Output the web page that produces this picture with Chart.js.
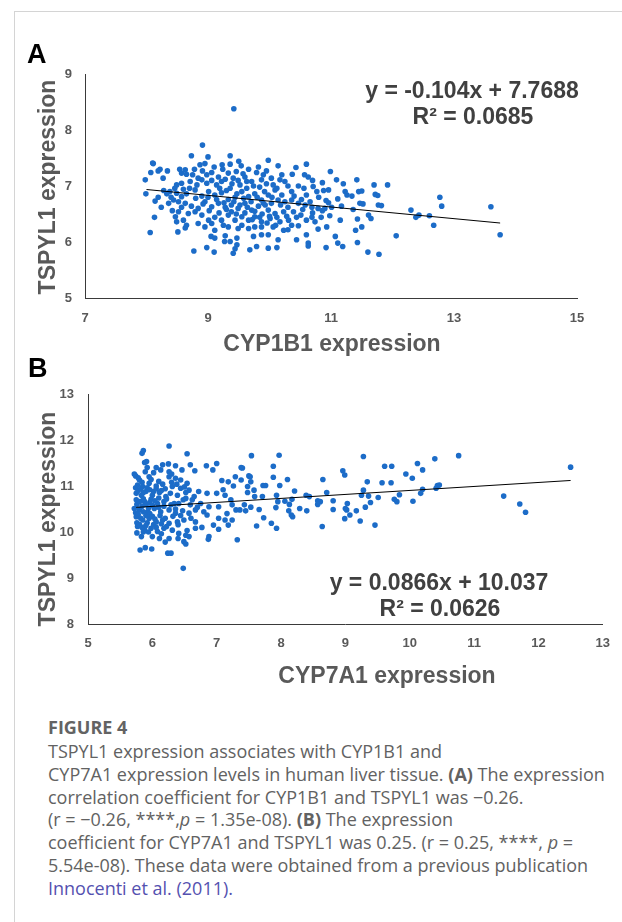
<!DOCTYPE html>
<html>
<head>
<meta charset="utf-8">
<script src="https://cdn.jsdelivr.net/npm/chart.js@4.4.1/dist/chart.umd.min.js"></script>
<style>
  html, body { margin: 0; padding: 0; background: #fff; }
  body { width: 622px; height: 922px; position: relative; overflow: hidden; font-family: "Liberation Sans", Arial, sans-serif; }
  .frame { position: absolute; left: 14px; top: 11px; right: -2px; bottom: -2px; border-left: 1px solid #d4d4d4; border-top: 1px solid #d4d4d4; }
  .panel { position: absolute; left: 0; width: 622px; height: 350px; }
  .txt { position: absolute; white-space: nowrap; line-height: 1; transform: translate(-50%, -50%); font-weight: bold; }
  .letter { font-size: 27px; color: #000; transform: translate(0, -50%); }
  .ytitle { font-size: 23px; color: #595959; transform: translate(-50%, -50%) rotate(-90deg); }
  .xtitle { font-size: 23px; color: #595959; }
  .eq { font-size: 23px; color: #404040; }
  .caption { position: absolute; left: 48px; font-family: "Open Sans", sans-serif; color: #626262; font-size: 18px; white-space: nowrap; }
  .caption .fig { position: absolute; left: 0; top: 716px; line-height: 23px; font-weight: bold; font-size: 18px; color: #636363; }
  .caption .body { position: absolute; left: 0; top: 740px; line-height: 22.8px; }
  .caption a { color: #5451b0; text-decoration: none; }
</style>
</head>
<body>
<div class="frame"></div>

<div class="panel" style="top:0"><canvas id="chartA" width="622" height="350"></canvas></div>
<div class="panel" style="top:350px"><canvas id="chartB" width="622" height="350"></canvas></div>

<div class="txt letter" style="left:27px; top:54px">A</div>
<div class="txt ytitle" style="left:47px; top:187px">TSPYL1 expression</div>
<div class="txt xtitle" style="left:332px; top:343px">CYP1B1 expression</div>
<div class="txt eq" style="left:472px; top:90px">y = -0.104x + 7.7688</div>
<div class="txt eq" style="left:473px; top:116px">R² = 0.0685</div>

<div class="txt letter" style="left:28px; top:368px">B</div>
<div class="txt ytitle" style="left:47px; top:519px">TSPYL1 expression</div>
<div class="txt xtitle" style="left:387px; top:675px">CYP7A1 expression</div>
<div class="txt eq" style="left:439px; top:582px">y = 0.0866x + 10.037</div>
<div class="txt eq" style="left:440px; top:608px">R² = 0.0626</div>

<div class="caption" style="top:0">
  <div class="fig">FIGURE 4</div>
  <div class="body">
    TSPYL1 expression associates with CYP1B1 and<br>
    CYP7A1 expression levels in human liver tissue. <b>(A)</b> The expression<br>
    correlation coefficient for CYP1B1 and TSPYL1 was −0.26.<br>
    (r = −0.26, ****,<i>p</i> = 1.35e-08). <b>(B)</b> The expression<br>
    coefficient for CYP7A1 and TSPYL1 was 0.25. (r = 0.25, ****, <i>p</i> =<br>
    5.54e-08). These data were obtained from a previous publication<br>
    <a>Innocenti et al. (2011).</a>
  </div>
</div>

<script>
// Panel A: CYP1B1 (x) vs TSPYL1 (y)
const cyp1b1Points = [
  [8.91,7.73],[8.73,7.54],[9.00,7.52],[9.36,7.54],[8.11,7.40],[8.87,7.38],[8.95,7.40],[9.23,7.38],[9.36,7.39],[9.54,7.36],
  [9.66,7.30],[8.22,7.30],[8.19,7.27],[8.07,7.24],[8.34,7.27],[8.54,7.30],[8.63,7.29],[8.57,7.23],[8.65,7.21],[8.91,7.27],
  [9.06,7.24],[9.33,7.23],[9.46,7.26],[9.57,7.22],[9.79,7.24],[9.90,7.20],[7.98,7.11],[8.27,7.14],[8.75,7.20],[8.84,7.14],
  [8.71,7.08],[8.90,7.11],[8.98,7.05],[9.06,7.10],[9.14,7.02],[9.22,7.08],[9.41,7.14],[9.49,7.10],[9.60,7.16],[9.71,7.08],
  [9.87,7.11],[8.49,7.02],[8.57,7.05],[8.46,6.96],[8.38,6.90],[8.49,6.87],[8.57,6.81],[8.65,6.86],[8.79,6.93],[8.90,6.82],
  [9.01,6.90],[9.11,6.84],[9.22,6.88],[9.33,6.76],[9.44,6.80],[9.55,6.90],[9.66,6.81],[9.76,6.86],[9.87,6.75],[7.99,6.86],
  [8.33,6.86],[9.36,6.96],[9.63,6.96],[8.14,6.73],[8.19,6.80],[8.44,6.75],[8.52,6.72],[8.36,6.69],[8.63,6.69],[8.84,6.60],
  [8.95,6.72],[9.06,6.63],[9.17,6.69],[9.28,6.62],[9.38,6.66],[9.49,6.60],[9.60,6.69],[9.71,6.57],[9.82,6.64],[9.90,6.69],
  [8.73,6.64],[8.57,6.62],[8.52,6.54],[8.47,6.45],[8.68,6.51],[8.90,6.48],[9.01,6.39],[9.11,6.44],[9.22,6.39],[9.33,6.48],
  [9.44,6.39],[9.55,6.45],[9.66,6.39],[9.76,6.45],[9.87,6.36],[8.13,6.44],[8.79,6.54],[9.38,6.54],[8.49,6.36],[8.60,6.39],
  [8.65,6.30],[8.63,6.25],[8.84,6.33],[8.95,6.27],[9.06,6.33],[9.33,6.27],[9.49,6.24],[9.55,6.30],[9.66,6.24],[9.76,6.27],
  [9.87,6.27],[8.06,6.17],[8.51,6.18],[9.11,6.21],[9.25,6.30],[9.05,6.10],[9.11,6.07],[9.28,6.11],[9.36,6.01],[9.27,6.01],
  [9.47,6.07],[9.47,5.95],[9.44,5.88],[8.77,5.84],[8.98,5.90],[9.10,5.82],[9.41,5.80],[9.68,5.86],[9.79,5.92],[9.74,6.10],
  [9.87,6.13],[9.42,8.38],[8.10,7.41],
  [9.98,7.46],[10.14,7.36],[10.60,7.39],[10.43,7.33],[10.37,7.21],[9.95,7.27],[10.03,7.14],[10.17,7.11],[10.25,7.08],[10.57,7.20],
  [10.63,7.16],[10.99,7.26],[11.09,7.11],[11.42,7.11],[11.70,7.02],[11.92,7.02],[11.20,7.04],[10.86,7.06],[10.71,6.99],[10.47,7.00],
  [10.77,6.90],[10.88,6.92],[10.96,6.93],[10.60,6.84],[10.36,6.90],[10.09,6.93],[10.20,6.84],[9.98,6.84],[11.23,6.90],[11.26,6.84],
  [11.34,6.82],[11.45,6.90],[11.50,6.91],[11.72,6.85],[11.11,6.77],[10.96,6.70],[11.01,6.62],[10.90,6.60],[10.79,6.60],[10.69,6.62],
  [10.58,6.66],[10.47,6.69],[10.36,6.75],[10.25,6.72],[10.14,6.75],[10.03,6.69],[9.93,6.66],[11.17,6.64],[11.47,6.69],[11.77,6.66],
  [11.61,6.48],[11.65,6.42],[11.36,6.58],[9.98,6.57],[10.09,6.51],[10.23,6.54],[10.39,6.54],[10.51,6.48],[10.69,6.44],[10.84,6.44],
  [10.98,6.47],[10.01,6.42],[10.17,6.36],[10.31,6.39],[10.47,6.29],[10.60,6.39],[10.74,6.36],[10.93,6.27],[11.15,6.39],[11.43,6.41],
  [11.50,6.27],[11.40,6.21],[10.06,6.27],[10.23,6.21],[9.98,6.13],[10.14,6.04],[10.44,6.04],[10.60,6.13],[10.63,5.98],[10.63,5.93],
  [10.79,6.23],[11.07,6.10],[11.11,5.98],[11.19,5.92],[10.92,5.90],[10.12,5.90],[9.98,5.89],[11.43,5.99],[12.06,6.11],[11.60,5.82],
  [11.78,5.78],[11.76,6.83],[11.82,6.65],[11.52,6.68],
  [12.30,6.57],[12.38,6.44],[12.43,6.48],[12.60,6.47],[12.67,6.30],[12.77,6.80],[12.80,6.64],[13.60,6.63],[13.75,6.13],
  [9.17,7.16],[9.28,7.12],[9.39,7.04],[9.52,7.02],[9.63,7.08],[9.74,7.00],[9.84,6.98],[9.95,7.04],[10.06,7.02],[10.12,6.96],
  [9.19,6.96],[9.30,6.92],[9.47,6.86],[9.58,6.78],[9.70,6.72],[9.80,6.80],[9.92,6.90],[10.04,6.80],[10.18,6.66],[10.30,6.62],
  [9.14,6.76],[9.26,6.70],[9.42,6.72],[9.52,6.66],[9.64,6.62],[9.76,6.55],[9.88,6.50],[10.00,6.46],[10.12,6.44],[10.28,6.46],
  [9.02,6.56],[9.18,6.52],[9.30,6.58],[9.46,6.50],[9.60,6.52],[9.72,6.40],[9.84,6.44],[9.96,6.34],[10.10,6.30],[10.36,6.30],
  [8.80,6.78],[8.92,6.68],[9.00,6.80],[8.70,6.96],[8.82,7.02],[8.60,6.94],[8.40,6.80],[8.28,6.92],[8.24,6.62],[8.42,6.56],
  [10.40,6.82],[10.52,6.76],[10.66,6.72],[10.80,6.80],[10.92,6.74],[10.54,6.58],[10.70,6.52],[10.86,6.56],[10.44,6.44],[10.30,6.22],
  [10.56,6.96],[10.70,7.10],[10.30,7.00],[10.20,7.20],[9.82,7.34],[9.50,7.44],[9.24,7.30],[9.10,7.34],[8.98,7.20],[8.78,7.30]
];
const trendAX = [8.0, 13.75];
const trendAY = [6.937, 6.339];
const xTicksA = [7, 9, 11, 13, 15];
const yTicksA = [5, 6, 7, 8, 9];

// Panel B: CYP7A1 (x) vs TSPYL1 (y)
const cyp7a1Points = [
  [6.26,11.87],[5.84,11.71],[5.86,11.77],[6.54,11.70],[5.88,11.51],[5.91,11.53],[6.16,11.46],[6.25,11.48],[6.59,11.46],[6.84,11.44],
  [7.00,11.49],[6.66,11.33],[6.94,11.35],[5.72,11.26],[5.74,11.22],[5.89,11.31],[6.02,11.29],[6.13,11.35],[6.26,11.31],[6.46,11.35],
  [6.36,11.17],[6.44,11.13],[6.54,11.06],[6.26,11.20],[5.95,11.20],[5.80,11.13],[7.18,11.09],[7.29,11.20],
  [5.77,11.02],[5.85,10.99],[5.95,11.06],[6.06,11.00],[6.16,11.04],[6.31,10.99],[6.44,10.95],[6.57,10.91],[6.72,10.88],[6.85,10.84],
  [7.00,10.84],[7.13,10.80],[5.75,10.84],[5.83,10.80],[5.90,10.88],[6.00,10.80],[6.11,10.86],[6.21,10.77],[6.39,10.80],[6.52,10.73],
  [6.65,10.77],[5.75,10.70],[5.88,10.66],[5.98,10.71],[6.08,10.62],[6.18,10.66],[6.29,10.59],[6.41,10.62],[6.59,10.59],[6.75,10.62],
  [6.88,10.55],[7.03,10.55],[7.24,10.59],[5.72,10.51],[5.80,10.48],[5.93,10.44],[6.03,10.51],[6.13,10.44],[6.26,10.48],[6.36,10.41],
  [6.47,10.46],[6.57,10.41],[6.67,10.48],[6.80,10.44],[6.85,10.37],[7.03,10.30],[7.13,10.26],[7.24,10.26],[7.18,10.15],[5.75,10.33],
  [5.85,10.26],[5.95,10.30],[6.06,10.22],[6.16,10.26],[6.26,10.19],[6.39,10.22],[6.49,10.26],[6.67,10.22],[6.77,10.10],[6.95,10.15],
  [5.77,10.12],[5.88,10.04],[5.98,10.08],[6.08,10.01],[6.18,10.08],[6.31,10.04],[6.41,9.97],[6.54,10.03],[6.67,10.08],[6.88,9.90],
  [7.03,10.06],[7.32,9.83],[5.83,9.90],[6.00,9.90],[6.11,9.86],[6.26,9.86],[6.52,9.93],[6.57,9.90],[6.49,9.79],[6.52,9.74],
  [6.87,9.84],[5.81,9.61],[5.89,9.66],[5.99,9.63],[6.24,9.54],[6.29,9.54],[6.48,9.21],[7.40,11.39],[7.52,11.20],
  [5.74,10.96],[5.78,10.90],[5.82,10.94],[5.86,10.86],[5.92,10.96],[5.96,10.92],[6.02,10.88],[6.06,10.94],[6.10,10.74],[6.14,10.90],
  [5.76,10.60],[5.80,10.66],[5.84,10.56],[5.86,10.72],[5.90,10.60],[5.94,10.52],[5.96,10.64],[6.00,10.58],[6.04,10.68],[6.10,10.54],
  [5.74,10.42],[5.78,10.38],[5.82,10.30],[5.86,10.44],[5.90,10.36],[5.92,10.20],[5.96,10.40],[6.00,10.34],[6.04,10.28],[6.12,10.36],
  [5.76,10.20],[5.80,10.16],[5.84,10.10],[5.90,10.14],[5.94,10.00],[6.02,10.16],[6.06,10.10],[6.14,10.18],[6.20,10.30],[6.22,10.12],
  [6.18,10.56],[6.22,10.72],[6.28,10.84],[6.34,10.62],[6.36,10.50],[6.32,10.34],[6.40,10.16],[6.44,10.36],[6.48,10.70],[6.52,10.86],
  [6.20,10.94],[6.30,11.08],[6.10,11.10],[5.98,11.14],[5.84,11.08],[6.38,11.04],[6.50,10.98],[6.62,10.70],[6.70,10.54],[6.60,10.30],
  [5.78,11.18],[5.92,11.40],[6.06,11.40],[6.36,11.44],[6.30,11.26],[5.86,10.00],[5.76,9.98],[6.14,9.96],[6.40,9.86],[6.20,9.78],
  [7.54,11.66],[7.97,11.67],[9.28,11.64],[10.76,11.66],[10.39,11.59],[7.88,11.43],[7.38,11.40],[9.61,11.43],[9.72,11.43],[10.12,11.49],
  [10.20,11.35],[8.96,11.33],[8.99,11.24],[9.94,11.26],[10.04,11.17],[7.50,11.22],[7.88,11.19],[7.38,11.13],[7.53,11.09],[8.10,11.14],
  [8.65,11.14],[9.34,11.09],[9.57,11.07],[9.71,11.07],[7.98,11.01],[7.72,11.01],[7.76,11.01],[7.48,10.99],[7.58,10.91],[7.48,10.86],
  [8.21,10.89],[8.71,10.86],[9.28,10.91],[10.20,10.93],[10.41,10.95],[10.43,11.01],[10.17,10.84],[7.93,10.80],[7.71,10.77],[7.59,10.77],
  [8.39,10.80],[8.44,10.77],[9.25,10.80],[9.36,10.78],[9.51,10.75],[9.84,10.81],[9.76,10.71],[9.80,10.66],[10.05,10.67],[8.17,10.71],
  [8.06,10.67],[7.95,10.66],[8.57,10.68],[8.61,10.66],[8.81,10.68],[9.03,10.62],[9.39,10.64],[7.43,10.59],[8.13,10.60],[8.57,10.60],
  [8.29,10.51],[7.53,10.54],[7.36,10.48],[7.45,10.46],[7.66,10.49],[7.92,10.53],[8.81,10.49],[9.00,10.51],[9.02,10.48],[9.31,10.54],
  [8.12,10.46],[8.16,10.37],[8.18,10.33],[8.40,10.46],[8.99,10.29],[9.07,10.37],[9.17,10.46],[7.73,10.31],[7.85,10.19],[7.93,10.08],
  [7.62,10.13],[8.64,10.12],[9.23,10.24],[9.46,10.15],
  [11.46,10.78],[11.71,10.61],[11.80,10.43],[12.50,11.41],[10.46,11.02],
  [7.10,10.92],[7.22,10.70],[7.30,10.48],[7.16,10.40],[7.26,11.00],[7.08,11.12]
];
const trendBX = [5.75, 12.5];
const trendBY = [10.535, 11.12];
const xTicksB = [5, 6, 7, 8, 9, 10, 11, 12, 13];
const yTicksB = [8, 9, 10, 11, 12, 13];

const DOT = "#1c6cc8";
const TICK_COLOR = "#595959";
const AXIS_COLOR = "#3a3a3a";
const Y_BOX = 40;   // fixed width of the y scale box
const X_BOX = 30;   // fixed height of the x scale box

function axis(ticks, isX, pad) {
    return {
        type: "linear",
        min: ticks[0],
        max: ticks[ticks.length - 1],
        ticks: {
            stepSize: ticks[1] - ticks[0],
            color: TICK_COLOR,
            padding: pad,
            maxRotation: 0,
            minRotation: 0,
            font: { family: "Liberation Sans", size: 13, weight: "bold" },
        },
        grid: { display: false, drawTicks: false },
        border: { display: true, color: AXIS_COLOR, width: 1 },
        // fixed box sizes so the layout padding decides the plot area
        afterFit: (scale) => {
            if (isX) scale.height = X_BOX; else scale.width = Y_BOX;
        },
    };
}

function createScatter(id, points, trendX, trendY, xTicks, yTicks, area, xPad, yPad) {
    const ctx = document.getElementById(id);
    return new Chart(ctx, {
        type: "scatter",
        data: {
            datasets: [
                {
                    type: "line",
                    data: trendX.map((x, i) => ({ x: x, y: trendY[i] })),
                    borderColor: "#000",
                    borderWidth: 1,
                    pointRadius: 0,
                    fill: false,
                    order: 1,
                },
                {
                    data: points.map(p => ({ x: p[0], y: p[1] })),
                    backgroundColor: DOT,
                    borderWidth: 0,
                    pointRadius: 2.8,
                    order: 2,
                },
            ],
        },
        options: {
            responsive: false,
            animation: false,
            layout: {
                padding: {
                    left: area.left - Y_BOX,
                    top: area.top,
                    right: area.right,
                    bottom: area.bottom - X_BOX,
                },
            },
            plugins: { legend: { display: false }, tooltip: { enabled: false } },
            scales: {
                x: axis(xTicks, true, xPad),
                y: axis(yTicks, false, yPad),
            },
        },
    });
}

createScatter("chartA", cyp1b1Points, trendAX, trendAY, xTicksA, yTicksA,
    { left: 85, top: 74, right: 45, bottom: 52 }, 13, 13);
createScatter("chartB", cyp7a1Points, trendBX, trendBY, xTicksB, yTicksB,
    { left: 88, top: 44, right: 14, bottom: 76 }, 12, 14);
</script>
</body>
</html>
